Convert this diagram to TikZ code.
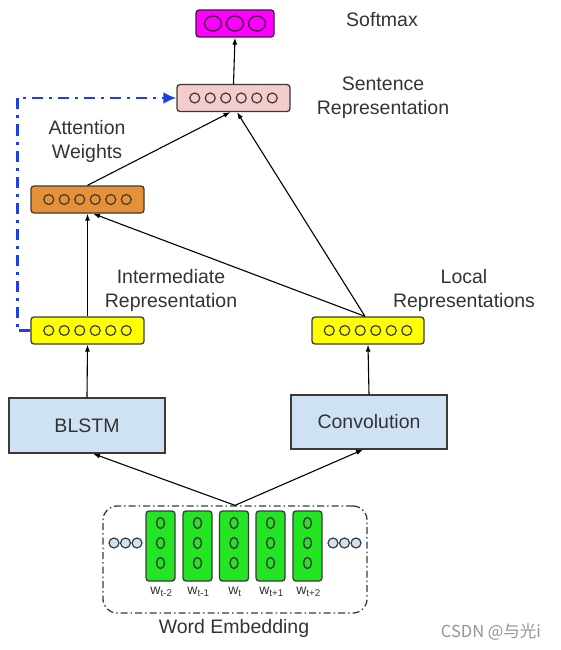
\documentclass[tikz,border=0pt]{standalone}
\usepackage{fontspec}
\setmainfont{Liberation Sans}
\newfontfamily\cjkfont{Noto Sans CJK SC}
\usetikzlibrary{positioning, arrows.meta}

\definecolor{txtgray}{HTML}{333333}
\definecolor{boxline}{HTML}{3A3A3A}
\definecolor{softmaxfill}{HTML}{FF00FF}
\definecolor{softmaxline}{HTML}{4A1048}
\definecolor{sentfill}{HTML}{F4CCCC}
\definecolor{attnfill}{HTML}{E69138}
\definecolor{interfill}{HTML}{FFFF00}
\definecolor{lstmfill}{HTML}{CFE2F3}
\definecolor{wordfill}{HTML}{22E622}
\definecolor{linkblue}{HTML}{1F3FE0}
\newcommand{\lblfont}{\fontsize{19.5}{24}\selectfont}

\begin{document}
\begin{tikzpicture}[
    x=1pt, y=-1pt,
    every node/.style={font=\lblfont, text=txtgray},
    vecbox/.style={rectangle, draw=boxline, line width=1.3pt, rounded corners=3pt, minimum width=113pt, minimum height=27pt, inner sep=0pt},
    layerbox/.style={rectangle, draw=boxline, line width=1.3pt, minimum width=156pt, minimum height=55pt, fill=lstmfill, inner sep=0pt},
    wordvec/.style={rectangle, draw=boxline, line width=1.3pt, rounded corners=3pt, minimum width=29pt, minimum height=70pt, fill=wordfill, inner sep=0pt},
    unit/.style={draw=boxline, line width=1.2pt},
    caption/.style={align=center},
    wlabel/.style={font=\fontsize{14}{16}\selectfont},
    arrow/.style={-{Latex[length=7pt, width=5pt]}, line width=1.1pt, draw=black}
]
\useasboundingbox (0,0) rectangle (561,650);

% Vector layers
\node[vecbox, fill=softmaxfill, draw=softmaxline, minimum width=78pt] (softmax) at (235,23.5) {};
\node[vecbox, fill=sentfill] (sent) at (233.5,98) {};
\node[vecbox, fill=attnfill] (attn) at (87.5,199.5) {};
\node[vecbox, fill=interfill] (inter) at (87.5,330.5) {};
\node[vecbox, fill=interfill, minimum width=112pt] (local) at (368,330.5) {};

% Units inside the vectors
\foreach \i in {-1,0,1}
    \draw[unit, draw=softmaxline, line width=1.4pt] ([xshift=\i*22pt]softmax.center) ellipse (8.5pt and 7.5pt);
\foreach \layer in {sent, attn, inter, local}
    \foreach \i in {-2.5,-1.5,...,2.5}
        \draw[unit] ([xshift=\i*15.5pt]\layer.center) circle (5pt);

% Encoders
\node[layerbox] (blstm) at (87,425.5) {BLSTM};
\node[layerbox, minimum height=54pt] (conv) at (369,422) {Convolution};

% Word embedding
\node[draw=boxline, line width=1.3pt, dash pattern=on 7pt off 3pt on 1.5pt off 3pt, rounded corners=14pt, minimum width=264pt, minimum height=107pt, inner sep=0pt] (embed) at (235,559.5) {};
\foreach \n/\x/\s in {wa/160.5/t-2, wb/197.5/t-1, wc/234/t, wd/270.5/t+1, we/307.5/t+2} {
    \node[wordvec] (\n) at (\x,546) {};
    \foreach \y in {523,543,563}
        \draw[unit, line width=1.4pt] (\x,\y) ellipse (4pt and 5.5pt);
    \node[wlabel] (\n-lbl) at (\x+1,592) {w\textsubscript{\s}};
}
\foreach \x in {114,125.5,137,333,344.5,356}
    \draw[unit, fill=lstmfill] (\x,543) circle (5pt);

% Labels
\node[caption] (softmax-lbl) at (382,20) {Softmax};
\node[caption] (sent-lbl) at (383,98) {Sentence\\Representation};
\node[caption] (attn-lbl) at (87,141) {Attention\\Weights};
\node[caption] (inter-lbl) at (171,290) {Intermediate\\Representation};
\node[caption] (local-lbl) at (464,290) {Local\\Representations};
\node[caption] (embed-lbl) at (234,628) {Word Embedding};
\node[font=\cjkfont\fontsize{16.5}{18}\selectfont, text=gray!85] (mark) at (491,632) {CSDN @与光i};

% Arrows
\draw[arrow] (sent.north) -- (softmax.south);
\draw[arrow] (attn.north) -- ([xshift=-3pt]sent.south);
\draw[arrow] ([xshift=-3pt]local.north) -- ([xshift=3.5pt]sent.south);
\draw[arrow] ([xshift=-3pt]local.north) -- ([xshift=5.5pt]attn.south);
\draw[arrow] (inter.north) -- (attn.south);
\draw[arrow] (blstm.north) -- (inter.south);
\draw[arrow] (conv.north) -- (local.south);
\draw[arrow] (embed.north) -- ([xshift=6pt]blstm.south);
\draw[arrow] (embed.north) -- ([xshift=-6pt]conv.south);
\draw[linkblue, line width=2.8pt, dash pattern=on 11pt off 6pt on 3pt off 6pt, -{Latex[length=13pt, width=12pt]}]
    (inter.west) -- ++(-13,0) |- (sent.west);

\end{tikzpicture}
\end{document}
